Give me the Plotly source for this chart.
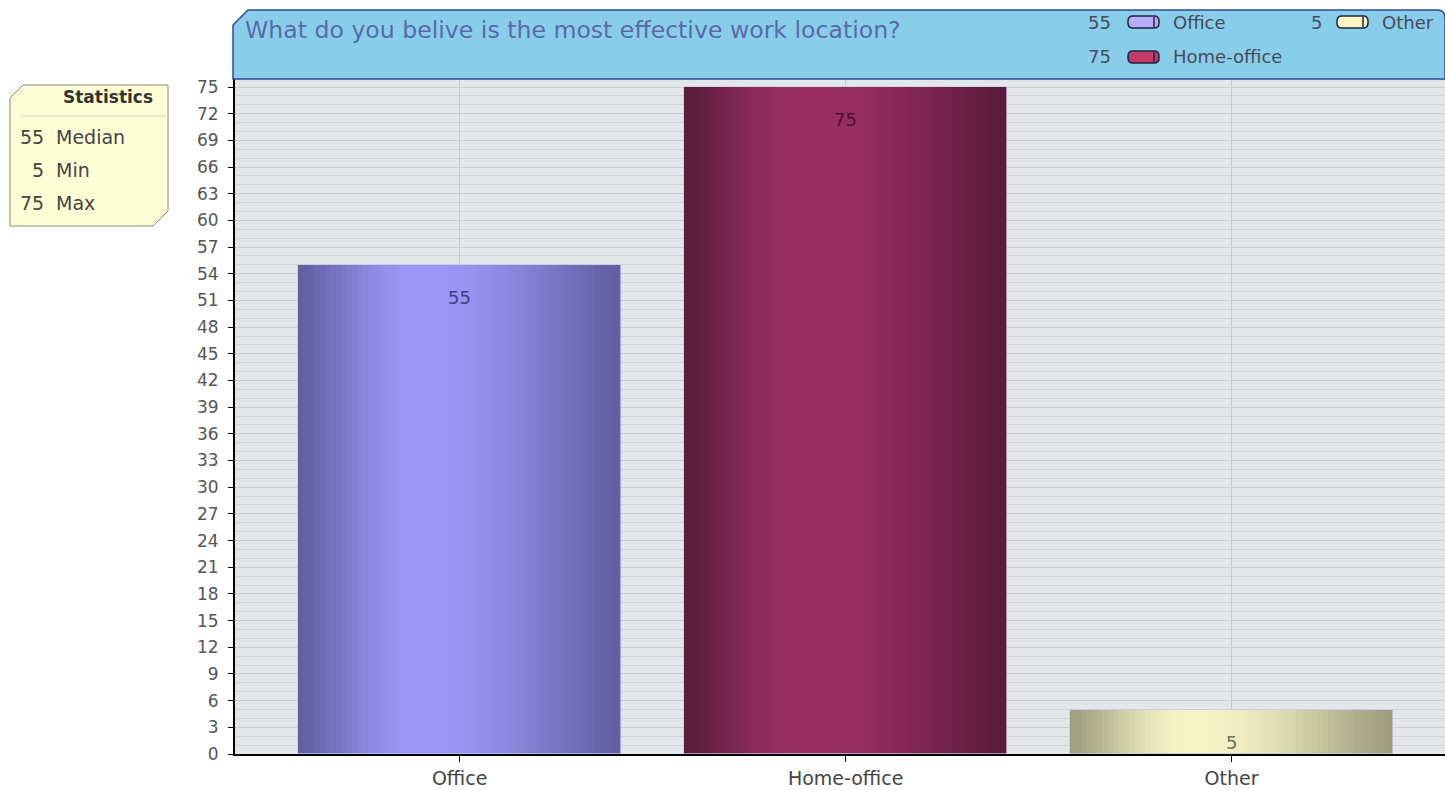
import numpy as np
import plotly.graph_objects as go

# ---------------- data ----------------
categories = ["Office", "Home-office", "Other"]
values = [55, 75, 5]
y_ticks = list(range(0, 76, 3))
title_text = "What do you belive is the most effective work location?"
stats_labels = ["Median", "Min", "Max"]

# ---------------- style ----------------
W, H = 1445, 790
FONT = "DejaVu Sans"
dark_cols = [(98, 96, 162), (92, 28, 60), (158, 158, 126)]
light_cols = [(155, 152, 248), (156, 48, 102), (247, 245, 198)]
label_cols = ["#3f3d86", "#4a1030", "#6e6e52"]
icon_cols = ["#b6aefc", "#c23a66", "#fff8c4"]
BAR_W = 0.837
N = 60


def X(px):
    return px / W


def Y(py):
    return 1 - py / H


def grad(t, dark, light, tp=0.38):
    if t < tp:
        f = t / tp
    else:
        f = 1 - (t - tp) / (1 - tp)
    f = np.sin(f * np.pi / 2) ** 1.3
    return "rgb(%d,%d,%d)" % tuple(int(d + (l - d) * f) for d, l in zip(dark, light))


fig = go.Figure()
sw = BAR_W / N
for i in range(N):
    t = (i + 0.5) / N
    cols = [grad(t, dark_cols[k], light_cols[k]) for k in range(len(categories))]
    fig.add_trace(go.Bar(
        x=categories, y=values, width=sw * 1.05, offset=-BAR_W / 2 + i * sw,
        marker=dict(color=cols, line=dict(width=0)), showlegend=False, hoverinfo="skip"))

# outline
fig.add_trace(go.Bar(
    x=categories, y=values, width=BAR_W, offset=-BAR_W / 2,
    marker=dict(color="rgba(0,0,0,0)", line=dict(color="rgba(200,200,235,0.7)", width=1)),
    showlegend=False, hoverinfo="skip"))

annotations = []
for c, v, col in zip(categories, values, label_cols):
    annotations.append(dict(x=c, y=v, xref="x", yref="y", text=str(v), showarrow=False,
                            yshift=-33, font=dict(family=FONT, size=18, color=col)))

shapes = []
# header box
hp = (f"M {X(233)},{Y(79)} L {X(233)},{Y(25)} L {X(248)},{Y(10)} L {X(1437)},{Y(10)} "
      f"Q {X(1445)},{Y(10)} {X(1445)},{Y(18)} L {X(1445)},{Y(79)} Z")
shapes.append(dict(type="path", path=hp, xref="paper", yref="paper",
                   fillcolor="#88ceeb", line=dict(color="#2a4a9a", width=1.5), layer="above"))
annotations.append(dict(x=X(243), y=Y(30), xref="paper", yref="paper", xanchor="left", yanchor="middle",
                        text=title_text, showarrow=False, font=dict(family=FONT, size=23.6, color="#5a6aa6")))

# legend inside header
leg_pos = [(1113, 1128, 22), (1113, 1128, 57), (1324, 1337, 22)]
for (numx, iconx, cy), c, v, ic in zip(leg_pos, categories, values, icon_cols):
    annotations.append(dict(x=X(numx), y=Y(cy), xref="paper", yref="paper", xanchor="right", yanchor="middle",
                            text=str(v), showarrow=False, font=dict(family=FONT, size=18, color="#4a4a5a")))
    annotations.append(dict(x=X(iconx + 43), y=Y(cy), xref="paper", yref="paper", xanchor="left", yanchor="middle",
                            text=c, showarrow=False, font=dict(family=FONT, size=18, color="#4a4a5a")))
    x0, x1, y0, y1, r = iconx, iconx + 31, cy - 6, cy + 6, 5
    pp = (f"M {X(x0 + r)},{Y(y0)} L {X(x1 - r)},{Y(y0)} Q {X(x1)},{Y(y0)} {X(x1)},{Y(y0 + r)} "
          f"L {X(x1)},{Y(y1 - r)} Q {X(x1)},{Y(y1)} {X(x1 - r)},{Y(y1)} L {X(x0 + r)},{Y(y1)} "
          f"Q {X(x0)},{Y(y1)} {X(x0)},{Y(y1 - r)} L {X(x0)},{Y(y0 + r)} Q {X(x0)},{Y(y0)} {X(x0 + r)},{Y(y0)} Z")
    shapes.append(dict(type="path", path=pp, xref="paper", yref="paper", fillcolor=ic,
                       line=dict(color="#222244", width=1.5), layer="above"))
    shapes.append(dict(type="line", x0=X(x1 - 5), x1=X(x1 - 5), y0=Y(y0 + 1), y1=Y(y1 - 1), xref="paper",
                       yref="paper", line=dict(color="#222244", width=1.5), layer="above"))

# statistics box
sp = (f"M {X(10)},{Y(98)} L {X(23)},{Y(85)} L {X(168)},{Y(85)} L {X(168)},{Y(211)} "
      f"L {X(153)},{Y(226)} L {X(10)},{Y(226)} Z")
shapes.append(dict(type="path", path=sp, xref="paper", yref="paper", fillcolor="#ffffd6",
                   line=dict(color="#8a8a80", width=1), layer="above"))
shapes.append(dict(type="line", x0=X(20), x1=X(166), y0=Y(116), y1=Y(116), xref="paper", yref="paper",
                   line=dict(color="#d0d0c0", width=1), layer="above"))
annotations.append(dict(x=X(155), y=Y(97), xref="paper", yref="paper", xanchor="right", yanchor="middle",
                        text="<b>Statistics</b>", showarrow=False, font=dict(family=FONT, size=17, color="#333")))
stats_vals = [int(np.median(values)), int(min(values)), int(max(values))]
for k, (lab, sv) in enumerate(zip(stats_labels, stats_vals)):
    cy = 137 + 33 * k
    annotations.append(dict(x=X(46), y=Y(cy), xref="paper", yref="paper", xanchor="right", yanchor="middle",
                            text=str(sv), showarrow=False, font=dict(family=FONT, size=19, color="#444")))
    annotations.append(dict(x=X(54), y=Y(cy), xref="paper", yref="paper", xanchor="left", yanchor="middle",
                            text=lab, showarrow=False, font=dict(family=FONT, size=19, color="#444")))

fig.update_layout(
    width=W, height=H, margin=dict(l=0, r=0, t=0, b=0, autoexpand=False),
    paper_bgcolor="white", plot_bgcolor="#e4e7ea",
    barmode="overlay", bargap=0, showlegend=False,
    shapes=shapes, annotations=annotations,
    xaxis=dict(domain=[X(235), 1], type="category", range=[-0.582, 2.553], automargin=False,
               showgrid=True, gridcolor="#c6cacf", gridwidth=1,
               showline=True, linecolor="black", linewidth=2,
               ticks="outside", ticklen=6, tickcolor="black",
               tickfont=dict(family=FONT, size=19, color="#444"), zeroline=False),
    yaxis=dict(domain=[Y(754), Y(79)], range=[0, 75.9], tickvals=y_ticks, automargin=False,
               showgrid=True, gridcolor="#c8ccd1", gridwidth=1,
               minor=dict(dtick=1, showgrid=True, gridcolor="#cfd3d7", gridwidth=1),
               showline=True, linecolor="black", linewidth=2,
               ticks="outside", ticklen=5, tickcolor="black", ticklabelstandoff=6,
               tickfont=dict(family=FONT, size=17, color="#555"), zeroline=False),
)

fig.write_html("out.html", config={"displayModeBar": False},
               post_script="document.body.style.margin='0';document.body.style.overflow='hidden';")
